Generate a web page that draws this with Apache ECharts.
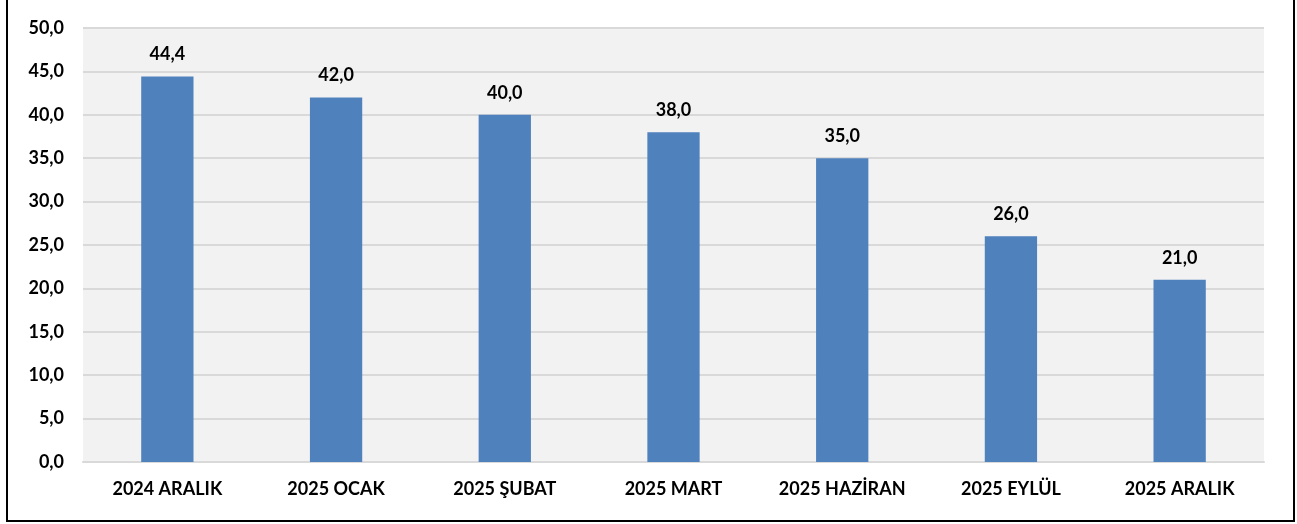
<!DOCTYPE html>
<html>
<head>
<meta charset="utf-8">
<script src="https://cdn.jsdelivr.net/npm/echarts@6/dist/echarts.min.js"></script>
<style>
  html, body { margin: 0; padding: 0; background: #fff; }
  #frame { position: absolute; left: 6px; top: -2px; width: 1285px; height: 520px; border: 2px solid #000; }
  #chart { position: absolute; left: 0; top: 0; width: 1297px; height: 524px; }
</style>
</head>
<body>
<div id="frame"></div>
<div id="chart"></div>
<script>
const categories = ['2024 ARALIK', '2025 OCAK', '2025 ŞUBAT', '2025 MART', '2025 HAZİRAN', '2025 EYLÜL', '2025 ARALIK']
const values = [44.4, 42.0, 40.0, 38.0, 35.0, 26.0, 21.0]

const fmt = v => Number(v).toFixed(1).replace('.', ',')
const font = 'Lato, "Open Sans", sans-serif'

const chart = echarts.init(document.getElementById('chart'))
chart.setOption({
  animation: false,
  grid: { left: 83, right: 33, top: 28, bottom: 62, backgroundColor: '#f2f2f2', show: true, borderWidth: 0 },
  xAxis: {
    type: 'category',
    data: categories,
    axisTick: { show: false },
    axisLine: { lineStyle: { color: '#d9d9d9', width: 2 } },
    axisLabel: { color: '#000', fontWeight: 'bold', fontSize: 18, fontFamily: font, margin: 18 }
  },
  yAxis: {
    type: 'value',
    min: 0,
    max: 50,
    interval: 5,
    axisLine: { show: false },
    axisTick: { show: false },
    splitLine: { lineStyle: { color: '#d9d9d9', width: 2 } },
    axisLabel: { color: '#000', fontWeight: 'bold', fontSize: 18, fontFamily: font, margin: 19, formatter: fmt }
  },
  series: [{
    type: 'bar',
    data: values,
    barWidth: '31%',
    itemStyle: { color: '#4f81bd' },
    label: {
      show: true,
      position: 'top',
      distance: 13,
      color: '#000',
      fontWeight: 'bold',
      fontSize: 18,
      fontFamily: font,
      formatter: p => fmt(p.value)
    }
  }]
})
</script>
</body>
</html>
